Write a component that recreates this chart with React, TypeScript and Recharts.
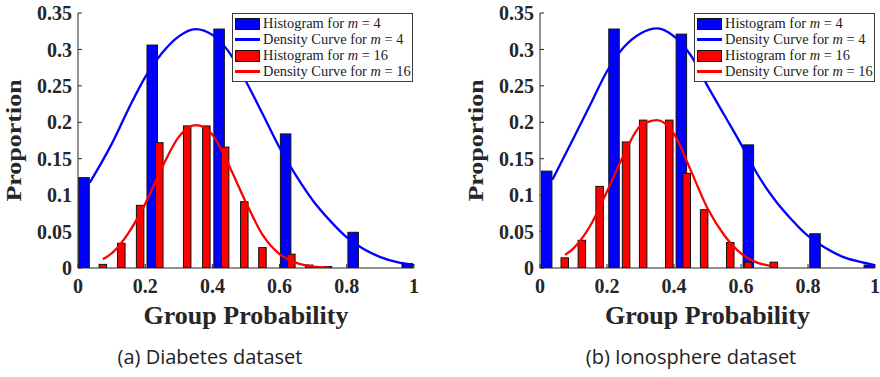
import React from 'react';
import { ComposedChart, Bar, Line, XAxis, YAxis, Legend, Label } from 'recharts';

// ---- axis ticks ----
const xTicks = [0, 0.2, 0.4, 0.6, 0.8, 1];
const yTicks = [0, 0.05, 0.1, 0.15, 0.2, 0.25, 0.3, 0.35];

// ---- (a) Diabetes dataset ----
const diabetesHist4X = [0.018, 0.221, 0.42, 0.618, 0.819, 0.98];
const diabetesHist4Y = [0.124, 0.306, 0.328, 0.184, 0.049, 0.006];
const diabetesHist16X = [0.074, 0.129, 0.185, 0.242, 0.325, 0.382, 0.438, 0.495, 0.549, 0.635, 0.688, 0.744];
const diabetesHist16Y = [0.005, 0.034, 0.086, 0.172, 0.195, 0.195, 0.166, 0.091, 0.028, 0.019, 0.004, 0.002];
const diabetesCurve4X = [0.035, 0.1, 0.15, 0.2, 0.25, 0.3, 0.35, 0.4, 0.45, 0.5, 0.55, 0.6, 0.65, 0.7, 0.75, 0.8, 0.85, 0.9, 0.95, 1.0];
const diabetesCurve4Y = [0.117, 0.17, 0.218, 0.262, 0.295, 0.318, 0.328, 0.32, 0.296, 0.256, 0.211, 0.165, 0.126, 0.092, 0.065, 0.042, 0.026, 0.015, 0.008, 0.004];
const diabetesCurve16X = [0.074, 0.1, 0.15, 0.2, 0.25, 0.3, 0.35, 0.4, 0.45, 0.5, 0.55, 0.6, 0.65, 0.7, 0.745];
const diabetesCurve16Y = [0.012, 0.02, 0.048, 0.088, 0.138, 0.18, 0.196, 0.183, 0.14, 0.09, 0.045, 0.019, 0.007, 0.002, 0.0005];

// ---- (b) Ionosphere dataset ----
const ionoHist4X = [0.02, 0.221, 0.422, 0.622, 0.821, 0.983];
const ionoHist4Y = [0.133, 0.328, 0.321, 0.169, 0.047, 0.004];
const ionoHist16X = [0.074, 0.125, 0.178, 0.257, 0.308, 0.386, 0.438, 0.49, 0.568, 0.621, 0.698];
const ionoHist16Y = [0.014, 0.038, 0.112, 0.173, 0.203, 0.203, 0.13, 0.08, 0.035, 0.008, 0.008];
const ionoCurve4X = [0.037, 0.1, 0.15, 0.2, 0.25, 0.3, 0.35, 0.4, 0.45, 0.5, 0.55, 0.6, 0.65, 0.7, 0.75, 0.8, 0.85, 0.9, 0.95, 1.0];
const ionoCurve4Y = [0.121, 0.178, 0.224, 0.27, 0.303, 0.322, 0.329, 0.318, 0.292, 0.25, 0.21, 0.17, 0.128, 0.094, 0.067, 0.044, 0.028, 0.016, 0.009, 0.004];
const ionoCurve16X = [0.075, 0.1, 0.15, 0.2, 0.25, 0.3, 0.35, 0.4, 0.45, 0.5, 0.55, 0.6, 0.65, 0.687];
const ionoCurve16Y = [0.018, 0.027, 0.058, 0.105, 0.155, 0.195, 0.203, 0.184, 0.134, 0.082, 0.045, 0.02, 0.007, 0.003];

// ---- legend & captions ----
const legendNames = ['Histogram for', 'Density Curve for', 'Histogram for', 'Density Curve for'];
const legendM = ['4', '4', '16', '16'];
const legendKinds = ['patch', 'line', 'patch', 'line'];
const captions = ['(a) Diabetes dataset', '(b) Ionosphere dataset'];

const BLUE = '#0000ff';
const RED = '#ff0000';
const AXIS = '#262626';
const legendColors = [BLUE, BLUE, RED, RED];

function histRows(x4: number[], y4: number[], x16: number[], y16: number[]) {
  const rows: any[] = [];
  x4.forEach((x, i) => rows.push({ x, h4: y4[i] }));
  x16.forEach((x, i) => rows.push({ x, h16: y16[i] }));
  rows.sort((a, b) => a.x - b.x);
  return rows;
}
function curveRows(xs: number[], ys: number[]) {
  return xs.map((x, i) => ({ x, y: ys[i] }));
}

const makeShape = (key: string, w: number, color: string) => (p: any) => {
  const v = p && p.payload ? p.payload[key] : null;
  if (v == null || !(p.height > 0)) return <g />;
  const cx = p.x + p.width / 2;
  return <rect x={cx - w / 2} y={p.y} width={w} height={p.height} fill={color} stroke="#111" strokeWidth={1} />;
};

const tickStyle = { fill: AXIS, fontSize: 20, fontWeight: 'bold', fontFamily: 'Liberation Serif' } as any;

const renderLegend = () => (
  <div
    style={{
      width: 181,
      height: 69,
      boxSizing: 'border-box',
      border: '1px solid #3a3a3a',
      background: '#fff',
      paddingTop: 1.5,
      paddingLeft: 2,
      fontFamily: 'Liberation Serif',
      fontSize: 14.4,
      color: '#222',
    }}
  >
    {legendNames.map((name, i) => (
      <div key={i} style={{ height: 16, display: 'flex', alignItems: 'center', whiteSpace: 'nowrap' }}>
        <div style={{ width: 25, height: 12, display: 'flex', alignItems: 'center', marginRight: 3 }}>
          {legendKinds[i] === 'patch' ? (
            <div style={{ width: 25, height: 12, boxSizing: 'border-box', background: legendColors[i], border: '1px solid #111' }} />
          ) : (
            <div style={{ width: 25, height: 2.5, background: legendColors[i] }} />
          )}
        </div>
        <span>
          {name} <i>m</i>&nbsp;=&nbsp;{legendM[i]}
        </span>
      </div>
    ))}
  </div>
);

function Panel(props: {
  left: number;
  width: number;
  rightMargin: number;
  rows: any[];
  c4: any[];
  c16: any[];
}) {
  const { left, width, rightMargin, rows, c4, c16 } = props;
  return (
    <div style={{ position: 'absolute', left, top: 0 }}>
      <ComposedChart width={width} height={377} data={rows} margin={{ top: 13, right: rightMargin, left: 0, bottom: 0 }}>
        <XAxis
          type="number"
          dataKey="x"
          domain={[0, 1]}
          ticks={xTicks}
          allowDataOverflow
          height={109}
          tickSize={-4}
          tickMargin={15}
          tick={tickStyle}
          axisLine={{ stroke: AXIS }}
          tickLine={{ stroke: AXIS }}
        >
          <Label
            content={(lp: any) => {
              const vb = lp.viewBox || {};
              return (
                <text
                  x={vb.x + vb.width / 2}
                  y={vb.y + 56}
                  textAnchor="middle"
                  fontFamily="Liberation Serif"
                  fontWeight="bold"
                  fontSize={26}
                  fill={AXIS}
                >
                  Group Probability
                </text>
              );
            }}
          />
        </XAxis>
        <XAxis
          xAxisId="top"
          orientation="top"
          type="number"
          dataKey="x"
          domain={[0, 1]}
          ticks={xTicks}
          allowDataOverflow
          height={0}
          tick={false}
          tickSize={-4}
          axisLine={{ stroke: AXIS }}
          tickLine={{ stroke: AXIS }}
        />
        <YAxis
          type="number"
          domain={[0, 0.35]}
          ticks={yTicks}
          allowDataOverflow
          width={78}
          tickSize={-4}
          tickMargin={10}
          tick={tickStyle}
          axisLine={{ stroke: AXIS }}
          tickLine={{ stroke: AXIS }}
        >
          <Label
            content={(lp: any) => {
              const vb = lp.viewBox || {};
              const cx = vb.x + 21;
              const cy = vb.y + vb.height / 2;
              return (
                <text
                  x={0}
                  y={0}
                  transform={`translate(${cx}, ${cy}) rotate(-90) scale(1, 0.8)`}
                  textAnchor="middle"
                  fontFamily="Liberation Serif"
                  fontWeight="bold"
                  fontSize={26}
                  fill={AXIS}
                >
                  Proportion
                </text>
              );
            }}
          />
        </YAxis>
        <YAxis
          yAxisId="right"
          orientation="right"
          type="number"
          domain={[0, 0.35]}
          ticks={yTicks}
          allowDataOverflow
          width={0}
          tick={false}
          tickSize={-4}
          axisLine={{ stroke: AXIS }}
          tickLine={{ stroke: AXIS }}
        />
        <Bar dataKey="h4" stackId="h" barSize={10} fill={BLUE} shape={makeShape('h4', 10.5, BLUE)} isAnimationActive={false} />
        <Bar dataKey="h16" stackId="h" fill={RED} shape={makeShape('h16', 7.5, RED)} isAnimationActive={false} />
        <Line data={c4} dataKey="y" type="monotone" stroke={BLUE} strokeWidth={2.3} dot={false} activeDot={false} isAnimationActive={false} />
        <Line data={c16} dataKey="y" type="monotone" stroke={RED} strokeWidth={2.3} dot={false} activeDot={false} isAnimationActive={false} />
        <Legend
          layout="horizontal"
          verticalAlign="middle"
          align="center"
          content={renderLegend}
          wrapperStyle={{ left: 232, top: 13, width: 181, height: 69 }}
        />
      </ComposedChart>
    </div>
  );
}

export default function App() {
  const rowsA = histRows(diabetesHist4X, diabetesHist4Y, diabetesHist16X, diabetesHist16Y);
  const rowsB = histRows(ionoHist4X, ionoHist4Y, ionoHist16X, ionoHist16Y);
  return (
    <div style={{ position: 'absolute', left: 0, top: 0, width: 880, height: 377, background: '#fff', overflow: 'hidden' }}>
      <Panel left={0} width={440} rightMargin={26} rows={rowsA} c4={curveRows(diabetesCurve4X, diabetesCurve4Y)} c16={curveRows(diabetesCurve16X, diabetesCurve16Y)} />
      <Panel left={462} width={418} rightMargin={5} rows={rowsB} c4={curveRows(ionoCurve4X, ionoCurve4Y)} c16={curveRows(ionoCurve16X, ionoCurve16Y)} />
      <svg width={880} height={377} style={{ position: 'absolute', left: 0, top: 0, pointerEvents: 'none' }}>
        <text x={210} y={364} textAnchor="middle" fontFamily="Open Sans" fontSize={20} fill="#222">
          {captions[0]}
        </text>
        <text x={691} y={364} textAnchor="middle" fontFamily="Open Sans" fontSize={20} fill="#222">
          {captions[1]}
        </text>
      </svg>
    </div>
  );
}
